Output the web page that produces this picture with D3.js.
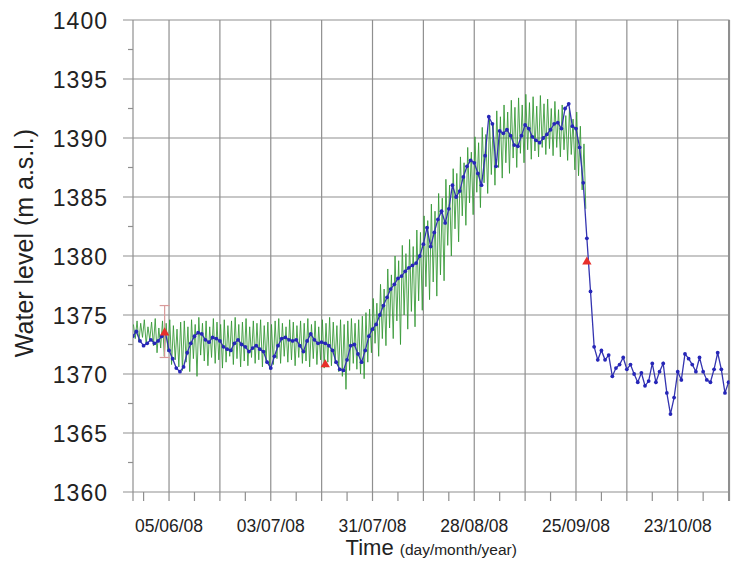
<!DOCTYPE html>
<html>
<head>
<meta charset="utf-8">
<script src="https://cdn.jsdelivr.net/npm/d3@7"></script>
<style>
  body { margin: 0; background: #fff; }
  text { font-family: "Liberation Sans", Arial, sans-serif; fill: #222; }
</style>
</head>
<body>
<div id="chart"></div>
<script>
// set the dimensions and margins of the graph
var margin = {top: 20, right: 1.5, bottom: 69, left: 133},
    width = 731 - margin.left - margin.right,
    height = 561 - margin.top - margin.bottom;

// data (one value per day from the start date)
var startDate = Date.UTC(2008, 4, 26);
var DAY = 86400000;

var blueLevel = [
  1373.2, 1373.6, 1372.8, 1372.4, 1372.6, 1372.9, 1372.6, 1372.8, 1373.2, 1373.5,
  1372.0, 1371.3, 1370.5, 1370.2, 1370.6, 1371.8, 1372.6, 1373.2, 1373.5, 1373.4,
  1372.9, 1372.7, 1373.1, 1373.0, 1372.8, 1372.3, 1372.1, 1372.0, 1372.6, 1372.9,
  1372.5, 1372.3, 1371.9, 1372.2, 1372.4, 1372.1, 1371.9, 1371.0, 1370.5, 1371.5,
  1372.4, 1373.0, 1373.1, 1372.9, 1372.8, 1372.9, 1372.4, 1371.9, 1372.8, 1373.4,
  1372.9, 1372.6, 1372.7, 1372.6, 1372.4, 1372.0, 1371.0, 1370.4, 1370.3, 1371.2,
  1372.4, 1372.5, 1371.7, 1371.0, 1372.0, 1373.2, 1373.8, 1374.2, 1375.0, 1375.8,
  1376.5, 1377.2, 1377.6, 1378.1, 1378.3, 1378.7, 1379.0, 1379.2, 1379.4, 1380.0,
  1381.0, 1382.4, 1380.8, 1382.0, 1383.1, 1383.8, 1382.8, 1384.0, 1386.0, 1385.0,
  1385.5, 1386.7, 1387.6, 1388.1, 1387.9, 1387.0, 1386.0, 1388.5, 1391.8, 1391.2,
  1387.6, 1390.6, 1390.4, 1390.7, 1390.2, 1389.4, 1389.3, 1390.2, 1391.1, 1390.8,
  1390.1, 1389.8, 1389.6, 1390.0, 1390.3, 1390.7, 1391.2, 1391.3, 1390.8, 1392.5,
  1392.9, 1391.0, 1390.8, 1389.2, 1386.2, 1381.5, 1377.0, 1372.3, 1371.2, 1372.0,
  1371.2, 1371.6, 1369.8, 1370.5, 1370.8, 1371.4, 1370.4, 1370.8, 1370.0, 1369.3,
  1370.1, 1369.0, 1369.4, 1370.9, 1369.3, 1370.2, 1370.9, 1368.4, 1366.6, 1368.0,
  1370.2, 1369.5, 1371.7, 1371.3, 1370.8, 1370.2, 1371.4, 1370.2, 1369.5, 1369.3,
  1370.4, 1371.8, 1370.4, 1368.4, 1369.3
];

// green series: daily high and daily low
var greenHigh = [
  1374.2, 1374.5, 1374.3, 1374.6, 1374.0, 1374.4, 1374.7, 1373.9, 1374.5, 1374.3,
  1374.6, 1374.1, 1373.8, 1374.4, 1374.5, 1374.0, 1374.6, 1374.2, 1374.8, 1374.3,
  1374.5, 1374.0, 1374.7, 1374.4, 1374.2, 1374.6, 1374.1, 1374.5, 1374.8, 1374.2,
  1374.4, 1374.7, 1374.0, 1374.5, 1374.3, 1374.6, 1374.1, 1374.4, 1374.2, 1374.5,
  1374.7, 1374.3, 1374.0, 1374.6, 1374.4, 1374.1, 1374.5, 1374.3, 1374.7, 1374.2,
  1374.5, 1374.0, 1374.6, 1374.3, 1374.8, 1374.4, 1374.1, 1374.6, 1374.2, 1374.5,
  1374.7, 1374.3, 1374.6, 1374.9, 1375.2,
  1375.5, 1376.4, 1376.0, 1377.6, 1377.2, 1378.9, 1378.4, 1380.0, 1379.6, 1380.9,
  1380.2, 1381.4, 1380.8, 1382.2, 1382.0, 1383.4, 1383.0, 1384.4, 1383.8, 1385.3,
  1384.9, 1386.5, 1386.0, 1387.4, 1387.0, 1388.4, 1387.9, 1389.2, 1388.8, 1390.1,
  1389.6, 1390.9, 1390.3, 1391.6, 1391.2, 1392.3, 1391.8, 1392.8, 1392.2, 1393.2,
  1392.6, 1393.4, 1392.8, 1393.7, 1393.0, 1393.5, 1392.7, 1393.6, 1392.9, 1393.3,
  1392.5, 1393.1, 1392.4, 1392.8, 1391.9, 1392.5, 1391.6, 1392.2, 1391.0, 1389.5
];
var greenLow = [
  1373.0, 1372.7, 1373.1, 1372.5, 1372.9, 1372.4, 1371.8, 1372.2, 1371.5, 1371.9,
  1370.8, 1371.2, 1370.6, 1370.3, 1371.0, 1370.2, 1371.3, 1369.8, 1371.6, 1371.1,
  1370.7, 1371.4, 1370.9, 1371.2, 1370.5, 1371.0, 1371.5, 1370.8, 1371.3, 1370.6,
  1371.1, 1370.7, 1371.4, 1370.9, 1371.2, 1370.6, 1371.0, 1370.4, 1370.8, 1371.3,
  1370.9, 1371.5, 1371.0, 1371.2, 1370.7, 1371.4, 1370.9, 1371.1, 1370.6, 1371.3,
  1370.8, 1371.2, 1370.5, 1371.0, 1370.7, 1370.9, 1370.2, 1369.8, 1368.7, 1370.3,
  1370.9, 1370.4, 1370.0, 1369.6, 1371.0,
  1371.8, 1372.6, 1371.5, 1373.0, 1372.4, 1373.9, 1373.0, 1374.5, 1372.5, 1375.0,
  1373.8, 1375.3, 1374.0, 1376.2, 1375.4, 1377.4, 1376.3, 1377.8, 1376.6, 1378.4,
  1377.9, 1380.9, 1380.0, 1382.3, 1381.2, 1383.4, 1382.6, 1384.5, 1383.5, 1385.4,
  1384.1, 1386.2, 1385.3, 1386.9, 1386.0, 1387.5, 1386.6, 1387.9, 1387.0, 1388.3,
  1387.5, 1388.7, 1387.9, 1389.0, 1388.2, 1388.9, 1388.4, 1389.2, 1388.6, 1389.1,
  1388.5, 1389.2, 1388.4, 1389.0, 1388.1, 1388.6, 1387.3, 1386.8, 1385.6, 1384.0
];

// red point measurements
var markerDates = ["2008-06-03T19:00Z", "2008-07-18T00:00Z", "2008-09-28T00:00Z"];
var markerLevel = [1373.5, 1370.8, 1379.5];
var markerErrLow = [1371.4, null, null];
var markerErrHigh = [1375.8, null, null];

// axis ticks
var yTicks = [1360, 1365, 1370, 1375, 1380, 1385, 1390, 1395, 1400];
var yMinorTicks = [1362.5, 1367.5, 1372.5, 1377.5, 1382.5, 1387.5, 1392.5, 1397.5];
var xTickDates = ["2008-06-05", "2008-07-03", "2008-07-31", "2008-08-28", "2008-09-25", "2008-10-23"];
var xTickLabels = ["05/06/08", "03/07/08", "31/07/08", "28/08/08", "25/09/08", "23/10/08"];

// build tables
var blueData = blueLevel.map(function(v, i) { return {date: new Date(startDate + i * DAY), value: v}; });
var greenData = [];
greenHigh.forEach(function(v, i) {
  greenData.push({date: new Date(startDate + (i + 0.2) * DAY), value: v});
  greenData.push({date: new Date(startDate + (i + 0.7) * DAY), value: greenLow[i]});
});
var markers = markerDates.map(function(d, i) {
  return {date: new Date(d), value: markerLevel[i], lo: markerErrLow[i], hi: markerErrHigh[i]};
});

// append the svg object to the body of the page
var svg = d3.select("#chart")
  .append("svg")
    .attr("width", 731)
    .attr("height", 561)
  .append("g")
    .attr("transform", "translate(" + margin.left + "," + margin.top + ")");

var x = d3.scaleUtc()
  .domain([new Date(Date.UTC(2008, 4, 26, 2)), new Date(Date.UTC(2008, 10, 6, 6))])
  .range([0, width]);

var y = d3.scaleLinear()
  .domain([1360, 1400])
  .range([height, 0]);

var gridColor = "#8f8f8f";

// vertical grid every 14 days
var gridDates = d3.utcDay.range(new Date(xTickDates[0]), x.domain()[1], 14);
svg.append("g")
  .selectAll("line")
  .data(gridDates)
  .enter().append("line")
    .attr("x1", function(d) { return x(d); })
    .attr("x2", function(d) { return x(d); })
    .attr("y1", 0)
    .attr("y2", height + 9)
    .attr("stroke", gridColor)
    .attr("stroke-width", 1.2);

// minor x ticks, halfway between the grid lines
var minorDates = d3.utcDay.range(new Date("2008-05-29"), x.domain()[1], 14);
svg.append("g")
  .selectAll("line")
  .data(minorDates)
  .enter().append("line")
    .attr("x1", function(d) { return x(d); })
    .attr("x2", function(d) { return x(d); })
    .attr("y1", height)
    .attr("y2", height + 9)
    .attr("stroke", gridColor)
    .attr("stroke-width", 1.2);

// horizontal grid
svg.append("g")
  .selectAll("line")
  .data(yTicks)
  .enter().append("line")
    .attr("x1", -10)
    .attr("x2", width)
    .attr("y1", function(d) { return y(d); })
    .attr("y2", function(d) { return y(d); })
    .attr("stroke", gridColor)
    .attr("stroke-width", 1.2);

// minor y ticks
svg.append("g")
  .selectAll("line")
  .data(yMinorTicks)
  .enter().append("line")
    .attr("x1", -5)
    .attr("x2", 0)
    .attr("y1", function(d) { return y(d); })
    .attr("y2", function(d) { return y(d); })
    .attr("stroke", gridColor)
    .attr("stroke-width", 1.2);

// frame left / right
svg.append("line").attr("x1", 0).attr("x2", 0).attr("y1", 0).attr("y2", height + 9)
  .attr("stroke", gridColor).attr("stroke-width", 1.2);
svg.append("line").attr("x1", width).attr("x2", width).attr("y1", 0).attr("y2", height + 9)
  .attr("stroke", gridColor).attr("stroke-width", 1.2);

// Y tick labels
svg.append("g")
  .selectAll("text")
  .data(yTicks)
  .enter().append("text")
    .attr("x", -25)
    .attr("y", function(d) { return y(d) + 9; })
    .attr("text-anchor", "end")
    .style("font-size", "23px")
    .style("letter-spacing", "1px")
    .text(function(d) { return d; });

// X tick labels
svg.append("g")
  .selectAll("text")
  .data(xTickDates)
  .enter().append("text")
    .attr("x", function(d) { return x(new Date(d)); })
    .attr("y", 512)
    .attr("text-anchor", "middle")
    .style("font-size", "17.5px")
    .text(function(d, i) { return xTickLabels[i]; });

// text label for the x axis
var xlab = svg.append("text")
  .attr("x", width / 2)
  .attr("y", 535)
  .attr("text-anchor", "middle");
xlab.append("tspan").style("font-size", "22px").text("Time ");
xlab.append("tspan").style("font-size", "15.5px").text("(day/month/year)");

// text label for the y axis
svg.append("text")
  .attr("transform", "rotate(-90)")
  .attr("x", -(243 - margin.top))
  .attr("y", 33 - margin.left)
  .attr("text-anchor", "middle")
  .style("font-size", "25px")
  .text("Water level (m a.s.l.)");

// clip
svg.append("clipPath").attr("id", "clip")
  .append("rect").attr("width", width).attr("height", height);

var plot = svg.append("g").attr("clip-path", "url(#clip)");

var line = d3.line()
  .x(function(d) { return x(d.date); })
  .y(function(d) { return y(d.value); });

// green line
plot.append("path")
  .datum(greenData)
  .attr("fill", "none")
  .attr("stroke", "#339633")
  .attr("stroke-opacity", 0.85)
  .attr("stroke-width", 1)
  .attr("d", line);

// blue line
plot.append("path")
  .datum(blueData)
  .attr("fill", "none")
  .attr("stroke", "#3434b0")
  .attr("stroke-width", 1.3)
  .attr("d", line);

plot.append("g")
  .selectAll("circle")
  .data(blueData)
  .enter().append("circle")
    .attr("cx", function(d) { return x(d.date); })
    .attr("cy", function(d) { return y(d.value); })
    .attr("r", 1.9)
    .attr("fill", "#2626b8");

// error bar
var withErr = markers.filter(function(d) { return d.lo != null; });
var eb = svg.append("g").attr("stroke", "#d99a9a").attr("stroke-width", 1.2);
withErr.forEach(function(d) {
  eb.append("line").attr("x1", x(d.date)).attr("x2", x(d.date)).attr("y1", y(d.lo)).attr("y2", y(d.hi));
  eb.append("line").attr("x1", x(d.date) - 5).attr("x2", x(d.date) + 5).attr("y1", y(d.lo)).attr("y2", y(d.lo));
  eb.append("line").attr("x1", x(d.date) - 5).attr("x2", x(d.date) + 5).attr("y1", y(d.hi)).attr("y2", y(d.hi));
});

// red triangles
svg.append("g")
  .selectAll("path")
  .data(markers)
  .enter().append("path")
    .attr("transform", function(d) { return "translate(" + x(d.date) + "," + y(d.value) + ")"; })
    .attr("d", d3.symbol().type(d3.symbolTriangle).size(38))
    .attr("fill", "#e8302a");
</script>
</body>
</html>
